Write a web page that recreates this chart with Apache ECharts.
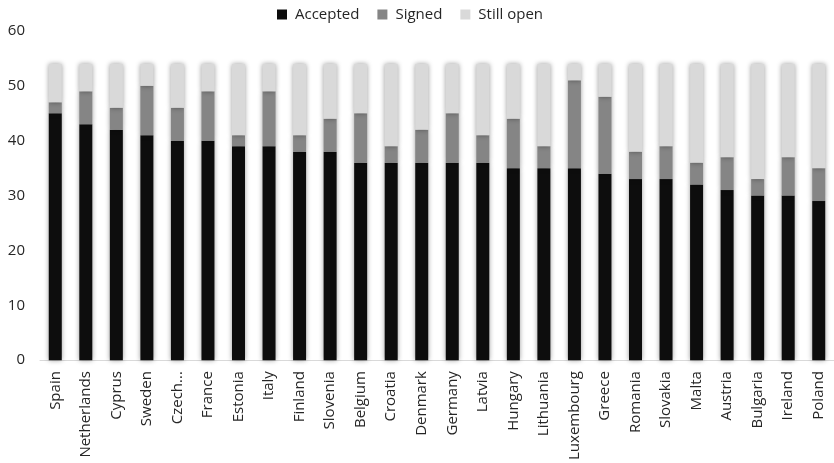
<!DOCTYPE html>
<html>
<head>
<meta charset="utf-8">
<script src="https://cdn.jsdelivr.net/npm/echarts@6/dist/echarts.min.js"></script>
<style>
html,body{margin:0;padding:0;background:#fff;}
#chart{width:834px;height:463px;}
</style>
</head>
<body>
<div id="chart"></div>
<script>
var categories = ['Spain','Netherlands','Cyprus','Sweden','Czech...','France','Estonia','Italy','Finland','Slovenia','Belgium','Croatia','Denmark','Germany','Latvia','Hungary','Lithuania','Luxembourg','Greece','Romania','Slovakia','Malta','Austria','Bulgaria','Ireland','Poland'];
var accepted = [45,43,42,41,40,40,39,39,38,38,36,36,36,36,36,35,35,35,34,33,33,32,31,30,30,29];
var signed   = [2,6,4,9,6,9,2,10,3,6,9,3,6,9,5,9,4,16,14,5,6,4,6,3,7,6];
var stillOpen = [7,5,8,4,8,5,13,5,13,10,9,15,12,9,13,10,15,3,6,16,15,18,17,21,17,19];
var yTicks = {min:0, max:60, interval:10};

var font = 'Open Sans';
var txt = '#262626';
var shadow = {shadowBlur:5, shadowColor:'rgba(0,0,0,0.4)', shadowOffsetX:0, shadowOffsetY:0};
function mk(name, data, color){
  return {name:name, type:'bar', stack:'total', data:data, barWidth:13,
    itemStyle:Object.assign({color:color}, shadow), emphasis:{disabled:true}};
}
var chart = echarts.init(document.getElementById('chart'));
chart.setOption({
  animation:false,
  textStyle:{fontFamily:font},
  legend:{top:7, left:277, padding:0, itemWidth:10, itemHeight:10, itemGap:18,
    icon:'rect',
    textStyle:{fontFamily:font, fontSize:15, color:txt, padding:[0,0,0,3]},
    data:['Accepted','Signed','Still open']},
  grid:{left:40, width:803, top:31, height:330},
  xAxis:{type:'category', data:categories,
    axisLine:{show:true, lineStyle:{color:'#d9d9d9'}},
    axisTick:{show:false},
    axisLabel:{rotate:90, interval:0, margin:11, fontFamily:font, fontSize:15, color:txt}},
  yAxis:{type:'value', min:yTicks.min, max:yTicks.max, interval:yTicks.interval,
    splitLine:{show:false}, axisLine:{show:false}, axisTick:{show:false},
    axisLabel:{margin:15, fontFamily:font, fontSize:15, color:txt}},
  series:[
    mk('Accepted', accepted, '#0d0d0d'),
    mk('Signed', signed, '#858585'),
    mk('Still open', stillOpen, '#d9d9d9')
  ]
});
</script>
</body>
</html>
